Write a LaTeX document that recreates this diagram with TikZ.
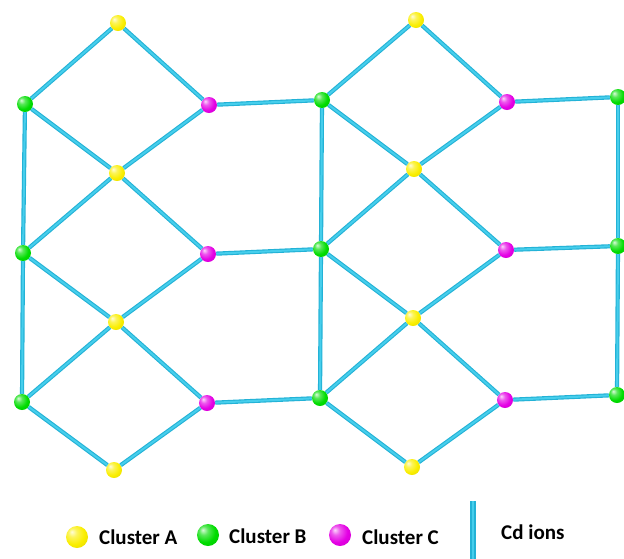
\documentclass[tikz,border=0pt]{standalone}
\usepackage{fontspec}
\setmainfont{Carlito}
\definecolor{bonddark}{RGB}{35,178,214}
\definecolor{bondlight}{RGB}{70,206,236}
\definecolor{ballA}{RGB}{250,238,0}
\definecolor{ballB}{RGB}{0,220,0}
\definecolor{ballC}{RGB}{228,0,228}
\pgfdeclareradialshading{shadeA}{\pgfqpoint{-12bp}{12bp}}{color(0bp)=(ballA!15!white); color(10bp)=(ballA!65!white); color(24bp)=(ballA); color(45bp)=(ballA!88!black); color(62bp)=(ballA!65!black)}
\pgfdeclareradialshading{shadeB}{\pgfqpoint{-12bp}{12bp}}{color(0bp)=(ballB!15!white); color(10bp)=(ballB!65!white); color(24bp)=(ballB); color(45bp)=(ballB!88!black); color(62bp)=(ballB!65!black)}
\pgfdeclareradialshading{shadeC}{\pgfqpoint{-12bp}{12bp}}{color(0bp)=(ballC!15!white); color(10bp)=(ballC!65!white); color(24bp)=(ballC); color(45bp)=(ballC!88!black); color(62bp)=(ballC!65!black)}
\tikzset{
  atom/.style={circle, inner sep=0pt, minimum size=16pt},
  atomA/.style={atom, shading=shadeA},
  atomB/.style={atom, shading=shadeB},
  atomC/.style={atom, shading=shadeC},
  bond/.style={draw=bonddark, line width=1.1pt, double=bondlight, double distance=2pt},
  legball/.style={circle, inner sep=0pt, minimum size=22pt},
  legtext/.style={anchor=west, inner sep=0pt, font=\fontsize{21}{25}\selectfont\bfseries},
}
\begin{document}
\begin{tikzpicture}[x=1pt,y=-1pt]
\useasboundingbox (0,0) rectangle (624,558);
% cluster A
\node[atomA] (a1) at (118,23) {};
\node[atomA] (a2) at (117,173) {};
\node[atomA] (a3) at (116,322) {};
\node[atomA] (a4) at (114,470) {};
\node[atomA] (a5) at (416,20) {};
\node[atomA] (a6) at (414,169) {};
\node[atomA] (a7) at (413,318) {};
\node[atomA] (a8) at (412,467) {};
% cluster B
\node[atomB] (b1) at (25,104) {};
\node[atomB] (b4) at (23,253) {};
\node[atomB] (b7) at (22,402) {};
\node[atomB] (b2) at (322,100) {};
\node[atomB] (b5) at (321,249) {};
\node[atomB] (b8) at (320,398) {};
\node[atomB] (b3) at (618,97) {};
\node[atomB] (b6) at (618,246) {};
\node[atomB] (b9) at (617,395) {};
% cluster C
\node[atomC] (c1) at (209,105) {};
\node[atomC] (c2) at (208,254) {};
\node[atomC] (c3) at (207,403) {};
\node[atomC] (c4) at (507,102) {};
\node[atomC] (c5) at (506,250) {};
\node[atomC] (c6) at (505,400) {};
% bonds
\foreach \p/\q in {a1/b1,a1/c1,b1/a2,c1/a2,c1/b2,b1/b4,a2/b4,a2/c2,b4/a3,c2/a3,c2/b5,b4/b7,a3/b7,a3/c3,b7/a4,c3/a4,c3/b8,
  a5/b2,a5/c4,b2/a6,c4/a6,c4/b3,b2/b5,a6/b5,a6/c5,b5/a7,c5/a7,c5/b6,b5/b8,a7/b8,a7/c6,b8/a8,c6/a8,c6/b9,b3/b6,b6/b9}
  \draw[bond] (\p) -- (\q);
% legend
\node[legball, shading=shadeA] (lA) at (77,537) {};
\node[legtext] (tA) at (99,537) {Cluster A};
\node[legball, shading=shadeB] (lB) at (208,535) {};
\node[legtext] (tB) at (229,536) {Cluster B};
\node[legball, shading=shadeC] (lC) at (340,535) {};
\node[legtext] (tC) at (362,537) {Cluster C};
\coordinate (bartop) at (473,501);
\coordinate (barbot) at (473,560);
\draw[draw=bonddark, line width=1.3pt, double=bondlight, double distance=2.8pt] (bartop) -- (barbot);
\node[legtext] (tD) at (501,532) {Cd ions};
\end{tikzpicture}
\end{document}
